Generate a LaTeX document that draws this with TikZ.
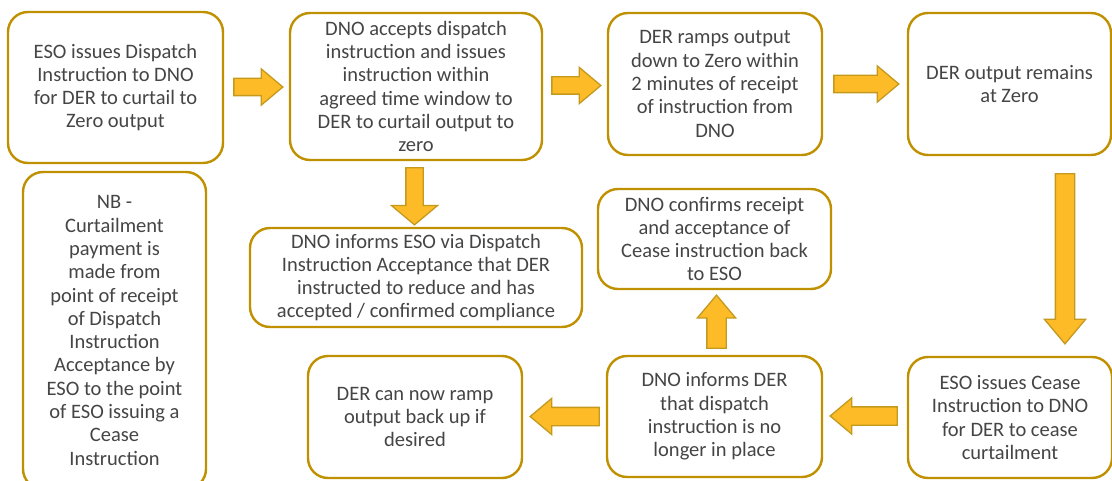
\documentclass[tikz,border=0pt]{standalone}
\usepackage{fontspec}
\setmainfont{Carlito}
\usetikzlibrary{shapes.arrows,calc}
\definecolor{boxline}{HTML}{BF9000}
\definecolor{arrowfill}{HTML}{FDBB27}
\definecolor{arrowline}{HTML}{C39A1E}
\definecolor{textgrey}{HTML}{454545}

\begin{document}
\begin{tikzpicture}[x=1pt,y=-1pt,
   procbox/.style={draw=boxline,line width=2.4pt,rounded corners=20pt,fill=white,
      align=center,text=textgrey,inner sep=0pt,
      font=\fontsize{20.5}{23.3}\selectfont},
   fatarrow/.style={single arrow,draw=arrowline,fill=arrowfill,line width=1.3pt,
      inner xsep=0pt,inner ysep=8pt,single arrow head extend=9.5pt,
      single arrow tip angle=80,anchor=tail}]
\useasboundingbox (0,0) rectangle (1112,481);
\clip (0,0) rectangle (1112,481);

% top row
\node[procbox,minimum width=215pt,minimum height=151pt] (esoissue) at (115.5,87.5)
   {ESO issues Dispatch\\Instruction to DNO\\for DER to curtail to\\Zero output};
\node[procbox,minimum width=252pt,minimum height=147pt] (dnoaccept) at (416,86.5)
   {DNO accepts dispatch\\instruction and issues\\instruction within\\agreed time window to\\DER to curtail output to\\zero};
\node[procbox,minimum width=214pt,minimum height=142pt] (derramp) at (715,84)
   {DER ramps output\\down to Zero within\\2 minutes of receipt\\of instruction from\\DNO};
\node[procbox,minimum width=203pt,minimum height=142pt] (derzero) at (1009.5,84)
   {DER output remains\\at Zero};

% middle
\node[procbox,minimum width=183pt,minimum height=317pt] (nbnote) at (114.5,330.5)
   {NB -\\Curtailment\\payment is\\made from\\point of receipt\\of Dispatch\\Instruction\\Acceptance by\\ESO to the point\\of ESO issuing a\\Cease\\Instruction};
\node[procbox,minimum width=332pt,minimum height=99pt] (dnoinform) at (416,277.5)
   {DNO informs ESO via Dispatch\\Instruction Acceptance that DER\\instructed to reduce and has\\accepted / confirmed compliance};
\node[procbox,minimum width=233pt,minimum height=100pt] (dnoconfirm) at (714.5,239)
   {DNO confirms receipt\\and acceptance of\\Cease instruction back\\to ESO};

% bottom row
\node[procbox,minimum width=204pt,minimum height=121pt] (esocease) at (1010,417.5)
   {ESO issues Cease\\Instruction to DNO\\for DER to cease\\curtailment};
\node[procbox,minimum width=215pt,minimum height=121pt] (dnotellder) at (714.5,416.5)
   {DNO informs DER\\that dispatch\\instruction is no\\longer in place};
\node[procbox,minimum width=214pt,minimum height=122pt] (derrampup) at (415,417)
   {DER can now ramp\\output back up if\\desired};

% block arrows
\node[fatarrow,minimum height=49pt] (arrowa) at ($(esoissue.east)+(9,-0.5)$) {};
\node[fatarrow,minimum height=49pt] (arrowb) at ($(dnoaccept.east)+(8,-1)$) {};
\node[fatarrow,minimum height=65pt] (arrowc) at ($(derramp.east)+(10,0)$) {};
\node[fatarrow,rotate=-90,minimum height=57pt,single arrow head extend=14.5pt,
   single arrow tip angle=100] (arrowd) at ($(dnoaccept.south)+(-1.5,6)$) {};
\node[fatarrow,rotate=-90,minimum height=170pt,inner ysep=9pt,single arrow head extend=11pt]
   (arrowe) at ($(derzero.south)+(55.5,17)$) {};
\node[fatarrow,rotate=180,minimum height=67pt,inner ysep=8.5pt,single arrow head extend=9pt]
   (arrowf) at ($(esocease.west)+(-9,-1.5)$) {};
\node[fatarrow,rotate=180,minimum height=69pt,inner ysep=8.5pt,single arrow head extend=9pt]
   (arrowg) at ($(dnotellder.west)+(-6,0)$) {};
\node[fatarrow,rotate=90,minimum height=53pt,inner ysep=9pt,single arrow head extend=9.5pt]
   (arrowh) at ($(dnotellder.north)+(2,-6)$) {};
\end{tikzpicture}
\end{document}
